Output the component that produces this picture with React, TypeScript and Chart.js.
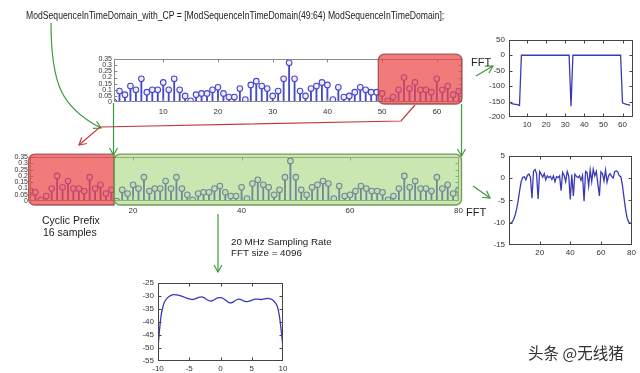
import React, { useEffect, useRef } from 'react';
import { Chart, registerables } from 'chart.js';
Chart.register(...registerables);

const FONT = "'Liberation Sans', Arial, Helvetica, sans-serif";

// ---------- data ----------
const modSequence = [
  0.0, 0.09, 0.06, 0.13, 0.10, 0.19, 0.08, 0.10, 0.10, 0.16,
  0.10, 0.19, 0.10, 0.05, 0.01, 0.06, 0.07, 0.07, 0.10, 0.12,
  0.07, 0.04, 0.04, 0.11, 0.02, 0.14, 0.17, 0.13, 0.11, 0.05,
  0.09, 0.19, 0.32, 0.19, 0.09, 0.05, 0.11, 0.13, 0.16, 0.14,
  0.02, 0.12, 0.04, 0.05, 0.08, 0.12, 0.10, 0.08, 0.08, 0.07,
  0.01, 0.04, 0.10, 0.20, 0.11, 0.16, 0.10, 0.10, 0.08, 0.19,
  0.10, 0.13, 0.06, 0.09,
];
const cyclicPrefixLength = 16;
const modSequenceWithCP = [...modSequence.slice(modSequence.length - cyclicPrefixLength), ...modSequence];
const stemTicksY = [0, 0.05, 0.1, 0.15, 0.2, 0.25, 0.3, 0.35];
const topStemTicksX = [10, 20, 30, 40, 50, 60];
const midStemTicksX = [20, 40, 60, 80];

const fftNoCPdB = [
  -152, -157, -158, -159, -160, -163,
  0, 0, 0, 0, 0, 0, 0, 0, 0, 0, 0, 0, 0, 0, 0, 0, 0, 0, 0, 0, 0, 0, 0, 0, 0, 0,
  -165,
  0, 0, 0, 0, 0, 0, 0, 0, 0, 0, 0, 0, 0, 0, 0, 0, 0, 0, 0, 0, 0, 0, 0, 0, 0, 0,
  -154, -157, -159, -160, -162,
];
const fftNoCPTicksX = [10, 20, 30, 40, 50, 60];
const fftNoCPTicksY = [-200, -150, -100, -50, 0, 50];

const fftWithCPdB = [
  -10, -9.9, -9.3, -8.3, -6.9, -5.0, -2.7, -0.7, 0.2, 0.3,
  -0.4, 0.6, 0.9, 0.2, -4.5, 1.5, 1.9, 1.0, -4.7, 1.5,
  0.9, 0.2, 1.0, -0.4, 0.5, 0.1, 0.4, -0.3, 0.5, -0.8,
  0.3, 0.1, 0.5, -2.8, 1.3, 0.6, -0.8, 1.5, 0.5, -4.8,
  0.8, -4.0, 0.9, 0.4, 0.1, 0.5, -0.5, 0.6, -5.2, 1.5,
  1.2, -1.8, 1.8, -0.8, 2.0, 0.5, 1.5, -1.3, -4.0, 1.4,
  1.0, -0.6, 1.8, -0.9, 0.5, 1.0, 0.4, 0.0, 1.5, 1.6,
  1.4, 0.5, 0.3, -1.5, -4.2, -6.8, -8.8, -9.8, -10.1, -10.2,
];
const fftWithCPTicksX = [20, 40, 60, 80];
const fftWithCPTicksY = [-15, -10, -5, 0, 5];

const spectrumFreqMHz = [
  -10, -9.75, -9.5, -9.25, -9, -8.5, -8, -7.5, -7, -6.5, -6, -5.5, -5, -4.5, -4, -3.5, -3, -2.5, -2, -1.5, -1, -0.5,
  0, 0.5, 1, 1.5, 2, 2.5, 3, 3.5, 4, 4.5, 5, 5.5, 6, 6.5, 7, 7.5, 8, 8.5, 9, 9.25, 9.5, 9.75, 10,
];
const spectrumDb = [
  -50, -43, -37.5, -34.5, -32.6, -30.8, -29.9, -29.5, -29.6, -29.9, -30.3, -30.8, -31.2, -31.4, -31.1, -30.6, -30.4, -30.9, -31.7, -32.0, -31.5, -30.8,
  -30.7, -31.1, -32.0, -32.7, -32.4, -31.6, -31.3, -31.7, -32.2, -32.1, -31.7, -31.3, -31.3, -31.4, -31.2, -31.0, -31.2, -31.9, -33.5, -35.5, -39.0, -44.0, -50.0,
];
const spectrumTicksX = [-10, -5, 0, 5, 10];
const spectrumTicksY = [-55, -50, -45, -40, -35, -30, -25];

// ---------- helpers ----------
const STEM = '#4848cc';
const LINE = '#3a3ab8';

type Box = { from: number; to: number; padT: number; padB: number; fill: string; stroke: string; radius: number | number[] };

function axesPlugin(o: { frame: string; tickLen: number; baseline?: string; boxes?: Box[] }) {
  return {
    id: 'matlabAxes',
    beforeDatasetsDraw(chart: any) {
      if (!o.baseline) return;
      const { ctx, chartArea: a, scales } = chart;
      const y = Math.round(scales.y.getPixelForValue(0)) - 0.5;
      ctx.save();
      ctx.strokeStyle = o.baseline;
      ctx.lineWidth = 1;
      ctx.beginPath();
      ctx.moveTo(a.left, y);
      ctx.lineTo(a.right, y);
      ctx.stroke();
      ctx.restore();
    },
    afterDatasetsDraw(chart: any) {
      const { ctx, chartArea: a, scales } = chart;
      const xs = scales.x, ys = scales.y;
      ctx.save();
      ctx.strokeStyle = o.frame;
      ctx.lineWidth = 1;
      const L = Math.round(a.left) + 0.5, R = Math.round(a.right) - 0.5;
      const T = Math.round(a.top) + 0.5, B = Math.round(a.bottom) - 0.5;
      ctx.strokeRect(L, T, R - L, B - T);
      const tl = o.tickLen;
      ctx.beginPath();
      xs.ticks.forEach((t: any) => {
        const x = Math.round(xs.getPixelForValue(t.value)) + 0.5;
        if (x <= L + 1 || x >= R - 1) return;
        ctx.moveTo(x, B); ctx.lineTo(x, B - tl);
        ctx.moveTo(x, T); ctx.lineTo(x, T + tl);
      });
      ys.ticks.forEach((t: any) => {
        const y = Math.round(ys.getPixelForValue(t.value)) + 0.5;
        if (y <= T + 1 || y >= B - 1) return;
        ctx.moveTo(L, y); ctx.lineTo(L + tl, y);
        ctx.moveTo(R, y); ctx.lineTo(R - tl, y);
      });
      ctx.stroke();
      (o.boxes || []).forEach((b) => {
        const x0 = xs.getPixelForValue(b.from), x1 = xs.getPixelForValue(b.to);
        const y0 = a.top - b.padT, y1 = a.bottom + b.padB;
        ctx.beginPath();
        ctx.roundRect(x0, y0, x1 - x0, y1 - y0, b.radius as any);
        ctx.fillStyle = b.fill;
        ctx.fill();
        ctx.strokeStyle = b.stroke;
        ctx.lineWidth = 1.3;
        ctx.stroke();
      });
      ctx.restore();
    },
  };
}

const fmt = (v: number) => String(Math.round(v * 100) / 100);

function axis(min: number, max: number, ticks: number[], size: number, fontSize: number, padding: number) {
  return {
    type: 'linear',
    min,
    max,
    offset: false,
    grid: { display: false, drawTicks: false },
    border: { display: false },
    afterBuildTicks: (a: any) => { a.ticks = ticks.map((v) => ({ value: v })); },
    afterFit: (a: any) => { if (a.isHorizontal()) a.height = size; else a.width = size; },
    ticks: {
      autoSkip: false,
      maxRotation: 0,
      minRotation: 0,
      padding,
      font: { family: FONT, size: fontSize },
      color: '#333',
      callback: (v: any) => fmt(Number(v)),
    },
  };
}

const baseOptions = (pad: any, x: any, y: any) => ({
  animation: false,
  responsive: false,
  maintainAspectRatio: false,
  events: [],
  layout: { padding: pad },
  plugins: { legend: { display: false }, tooltip: { enabled: false } },
  scales: { x, y },
});

function stemConfig(values: number[], xMin: number, xMax: number, ticksX: number[], pad: any, yw: number, boxes: Box[]) {
  const pts = values.map((v, i) => ({ x: i + 1, y: v }));
  return {
    type: 'bar',
    data: {
      datasets: [
        {
          type: 'line', data: pts, showLine: false, order: 0,
          pointRadius: 2.8, pointBorderWidth: 1.1, pointBorderColor: STEM, pointBackgroundColor: '#eeeeff',
        },
        { type: 'bar', data: pts, order: 1, backgroundColor: STEM, barThickness: 1.2, borderWidth: 0 },
      ],
    },
    options: baseOptions(pad, axis(xMin, xMax, ticksX, 16, 8, 5), axis(0, 0.35, stemTicksY, yw, 7, 2)),
    plugins: [axesPlugin({ frame: '#8a8a8a', tickLen: 3, baseline: STEM, boxes })],
  };
}

function lineConfig(xsv: number[], ysv: number[], xr: [number, number], yr: [number, number], tx: number[], ty: number[], pad: any, yw: number, xh: number, smooth: boolean) {
  const pts = xsv.map((x, i) => ({ x, y: ysv[i] }));
  return {
    type: 'line',
    data: {
      datasets: [{
        data: pts, borderColor: LINE, borderWidth: 1.3, pointRadius: 0,
        cubicInterpolationMode: smooth ? 'monotone' : 'default', tension: 0,
      }],
    },
    options: baseOptions(pad, axis(xr[0], xr[1], tx, xh, 8, 3), axis(yr[0], yr[1], ty, yw, 8, 4)),
    plugins: [axesPlugin({ frame: '#444', tickLen: 3 })],
  };
}

function ChartCanvas({ left, top, width, height, config }: any) {
  const ref = useRef<HTMLCanvasElement>(null);
  useEffect(() => {
    const c = new Chart(ref.current as HTMLCanvasElement, config);
    return () => c.destroy();
  }, []);
  return <canvas ref={ref} width={width} height={height} style={{ position: 'absolute', left, top, width, height }} />;
}

const idx = (n: number) => Array.from({ length: n }, (_, i) => i + 1);

const GREEN = '#3f9b3f';
const RED = '#c43a3a';

function Txt({ left, top, size, children, style }: any) {
  return (
    <div style={{ position: 'absolute', left, top, fontSize: size, lineHeight: `${size}px`, fontFamily: FONT, color: '#222', whiteSpace: 'nowrap', ...style }}>
      {children}
    </div>
  );
}

export default function App() {
  const topStem = stemConfig(modSequence, 1, 64.6, topStemTicksX, { top: 6, right: 6, left: 0, bottom: 0 }, 22, [
    { from: 49.3, to: 64.6, padT: 5, padB: 2, fill: 'rgba(236,72,72,0.72)', stroke: 'rgba(150,70,70,0.85)', radius: 6 },
  ]);
  const midStem = stemConfig(modSequenceWithCP, 1, 80, midStemTicksX, { top: 5, right: 8, left: 0, bottom: 0 }, 24, [
    { from: 0.75, to: 16.5, padT: 3, padB: 4, fill: 'rgba(236,72,72,0.72)', stroke: 'rgba(150,70,70,0.85)', radius: [6, 0, 0, 6] },
    { from: 16.5, to: 80.55, padT: 3, padB: 4, fill: 'rgba(150,206,100,0.5)', stroke: 'rgba(95,150,70,0.9)', radius: 6 },
  ]);
  const fftTop = lineConfig(idx(64), fftNoCPdB, [0.5, 65.5], [-200, 50], fftNoCPTicksX, fftNoCPTicksY, { top: 6, right: 6, left: 0, bottom: 0 }, 28, 14, false);
  const fftMid = lineConfig(idx(80), fftWithCPdB, [0, 80], [-15, 5], fftWithCPTicksX, fftWithCPTicksY, { top: 6, right: 6, left: 0, bottom: 0 }, 28, 14, false);
  const spec = lineConfig(spectrumFreqMHz, spectrumDb, [-10, 10], [-55, -25], spectrumTicksX, spectrumTicksY, { top: 6, right: 8, left: 0, bottom: 0 }, 26, 12, true);

  return (
    <div style={{ position: 'absolute', left: 0, top: 0, width: 640, height: 373, overflow: 'hidden', background: '#fff' }}>
      <ChartCanvas left={92} top={53} width={376} height={65} config={topStem} />
      <ChartCanvas left={6} top={151} width={462} height={66} config={midStem} />
      <ChartCanvas left={481} top={31} width={158} height={100} config={fftTop} />
      <ChartCanvas left={481} top={147} width={158} height={112} config={fftMid} />
      <ChartCanvas left={132} top={274} width={159} height={99} config={spec} />

      <svg width={640} height={373} style={{ position: 'absolute', left: 0, top: 0, pointerEvents: 'none' }}>
        <defs>
          <marker id="ag" markerWidth="10" markerHeight="10" refX="8" refY="5" orient="auto" markerUnits="userSpaceOnUse">
            <path d="M1,1 L8,5 L1,9" fill="none" stroke={GREEN} strokeWidth="1.2" />
          </marker>
          <marker id="ar" markerWidth="10" markerHeight="10" refX="8" refY="5" orient="auto" markerUnits="userSpaceOnUse">
            <path d="M1,1 L8,5 L1,9" fill="none" stroke={RED} strokeWidth="1.2" />
          </marker>
        </defs>
        <g fill="none" strokeWidth="1.2">
          <path d="M51,23 C51,85 62,108 101,128" stroke={GREEN} markerEnd="url(#ag)" />
          <path d="M113.5,103 L113.5,155" stroke={GREEN} markerEnd="url(#ag)" />
          <path d="M461.5,104 L461.5,156" stroke={GREEN} markerEnd="url(#ag)" />
          <path d="M476,76 L493,66" stroke={GREEN} markerEnd="url(#ag)" />
          <path d="M473,186 L490,198" stroke={GREEN} markerEnd="url(#ag)" />
          <path d="M218,214 L218,272" stroke={GREEN} markerEnd="url(#ag)" />
          <path d="M415,105 L401,121 L100,127 L79,145" stroke={RED} markerEnd="url(#ar)" />
        </g>
      </svg>

      <Txt left={26} top={10} size={10.8} style={{ transform: 'scaleX(0.8)', transformOrigin: '0 0' }}>
        ModSequenceInTimeDomain_with_CP = [ModSequenceInTimeDomain(49:64) ModSequenceInTimeDomain];
      </Txt>
      <Txt left={471} top={57} size={11}>FFT</Txt>
      <Txt left={466} top={207} size={11}>FFT</Txt>
      <Txt left={42} top={215} size={10.5}>Cyclic Prefix</Txt>
      <Txt left={43} top={227} size={10.5}>16 samples</Txt>
      <Txt left={231} top={237} size={9.8}>20 MHz Sampling Rate</Txt>
      <Txt left={231} top={248} size={9.8}>FFT size = 4096</Txt>
      <Txt left={528} top={345} size={15.5} style={{ fontFamily: "'Noto Sans CJK SC', sans-serif", color: '#333' }}>
        头条 @无线猪
      </Txt>
    </div>
  );
}
